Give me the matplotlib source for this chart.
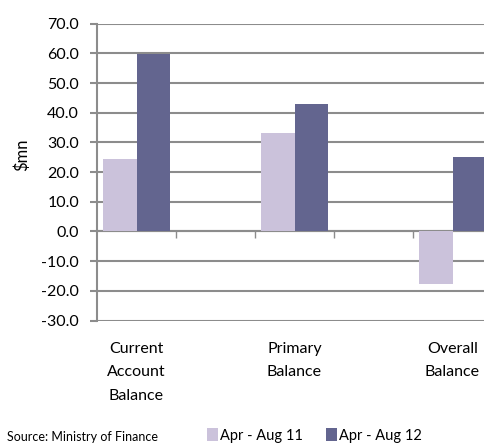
import numpy as np
import matplotlib.pyplot as plt
from matplotlib.transforms import blended_transform_factory

# dados
categorias = ['Current\nAccount\nBalance', 'Primary\nBalance', 'Overall\nBalance']
apr_aug_11 = [24.4, 33.3, -17.7]
apr_aug_12 = [59.7, 42.9, 25.0]
series = ['Apr - Aug 11', 'Apr - Aug 12']
yticks = np.arange(-30, 71, 10)

cor_clara = '#CBC2DB'
cor_escura = '#63658F'
cinza = '#8C8C8C'

plt.rcParams['font.family'] = ['Lato', 'DejaVu Sans']
plt.rcParams['font.size'] = 11

fig = plt.figure(figsize=(4.84, 4.44), dpi=100)
W, H = 484, 444
# eixo mais largo que a figura (o original esta cortado a direita)
ax = fig.add_axes([97 / W, 1 - 320.5 / H, 474 / W, (320.5 - 23.7) / H])

# categorias nas posicoes 0, 2, 4 (posicoes 1, 3, 5 vazias)
pos = np.array([0, 2, 4])
larg = 0.42
ax.bar(pos - larg / 2, apr_aug_11, larg, color=cor_clara, label=series[0], zorder=3)
ax.bar(pos + larg / 2, apr_aug_12, larg, color=cor_escura, label=series[1], zorder=3)

ax.set_xlim(-0.5, 5.5)
ax.set_ylim(-30, 70)
ax.set_yticks(yticks)
ax.set_yticklabels([f'{v:.1f}' for v in yticks])
ax.yaxis.grid(True, color=cinza, linewidth=1.5, zorder=0)
ax.set_axisbelow(True)

for s in ['top', 'right']:
    ax.spines[s].set_visible(False)
ax.spines['left'].set_color(cinza)
ax.spines['left'].set_linewidth(1.5)
ax.spines['bottom'].set_position(('data', 0))
ax.spines['bottom'].set_color(cinza)
ax.spines['bottom'].set_linewidth(1.5)

ax.set_xticks([0.5, 1.5, 2.5, 3.5, 4.5])
ax.set_xticklabels([])
ax.tick_params(axis='x', direction='out', length=5, color=cinza, width=1)
ax.tick_params(axis='y', direction='out', length=5, color=cinza, width=1.5, pad=8,
               labelsize=11.5)

trans = blended_transform_factory(ax.transData, fig.transFigure)
for p, c in zip(pos, categorias):
    ax.text(p, 1 - 342 / H, c, transform=trans, ha='center', va='top',
            linespacing=1.85, fontsize=11.5)

fig.text(22 / W, 1 - 155 / H, '$mn', rotation=90, ha='center', va='center', fontsize=12)
fig.text(7 / W, 1 - 443 / H, 'Source: Ministry of Finance', ha='left', va='bottom', fontsize=9)

fig.legend(loc='upper left', bbox_to_anchor=(207 / W, 1 - 428 / H), ncol=2, frameon=False,
           handlelength=0.75, handleheight=1.0, handletextpad=0.15, columnspacing=1.6,
           borderaxespad=0, borderpad=0, fontsize=10.5)

fig.savefig('out.png', dpi=100)
